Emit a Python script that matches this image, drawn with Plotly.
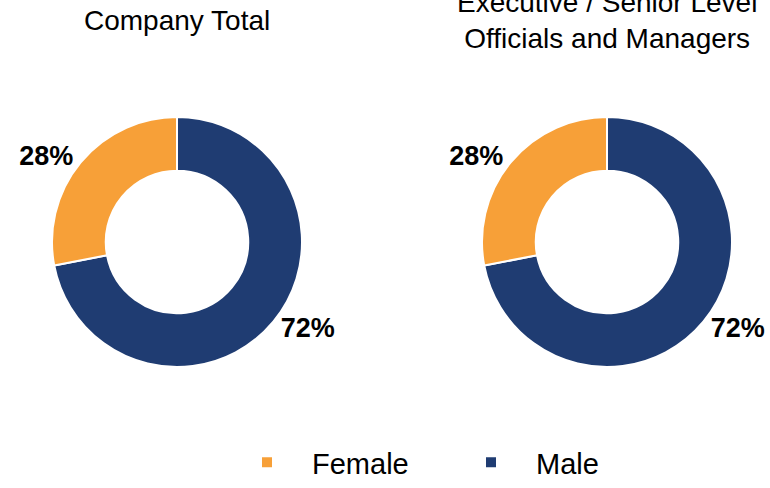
import plotly.graph_objects as go

# Gender split for each workforce group (male slice drawn first, clockwise from 12 o'clock)
genders = ["Male", "Female"]
company_total = [72, 28]
exec_senior = [72, 28]
group_titles = ["Company Total", "Executive / Senior Level<br>Officials and Managers"]
colors = ["#1F3C72", "#F7A038"]

W, H = 770, 488

def px_dom(x0, x1, y0, y1):
    return dict(x=[x0 / W, x1 / W], y=[1 - y1 / H, 1 - y0 / H])

fig = go.Figure()
for i, (vals, dom) in enumerate([
    (company_total, px_dom(52, 302, 117, 367)),
    (exec_senior, px_dom(482, 732, 117, 367)),
]):
    fig.add_trace(go.Pie(
        labels=genders,
        values=vals,
        hole=0.57,
        sort=False,
        direction="clockwise",
        rotation=0,
        marker=dict(colors=colors, line=dict(color="white", width=2)),
        texttemplate="%{percent:.0%}",
        textposition="outside",
        textfont=dict(family="Liberation Sans, Arial", size=27, color="black", weight="bold"),
        domain=dom,
        showlegend=(i == 0),
        hoverinfo="label+percent",
    ))

for title, cx in zip(group_titles, [177, 607]):
    fig.add_annotation(
        text=title, x=cx / W, y=1 - 20 / H, xref="paper", yref="paper",
        xanchor="center", yanchor="middle", showarrow=False,
        font=dict(family="Liberation Sans, Arial", size=28, color="black"),
    )

fig.update_layout(
    width=W, height=H,
    margin=dict(l=0, r=0, t=0, b=0),
    paper_bgcolor="white",
    plot_bgcolor="white",
    legend=dict(
        orientation="h", x=222 / W, xanchor="left", y=0, yanchor="bottom",
        traceorder="reversed",
        font=dict(family="Liberation Sans, Arial", size=29, color="black"),
        itemwidth=80,
        entrywidth=129, entrywidthmode="pixels",
    ),
)

fig.write_html("out.html")
